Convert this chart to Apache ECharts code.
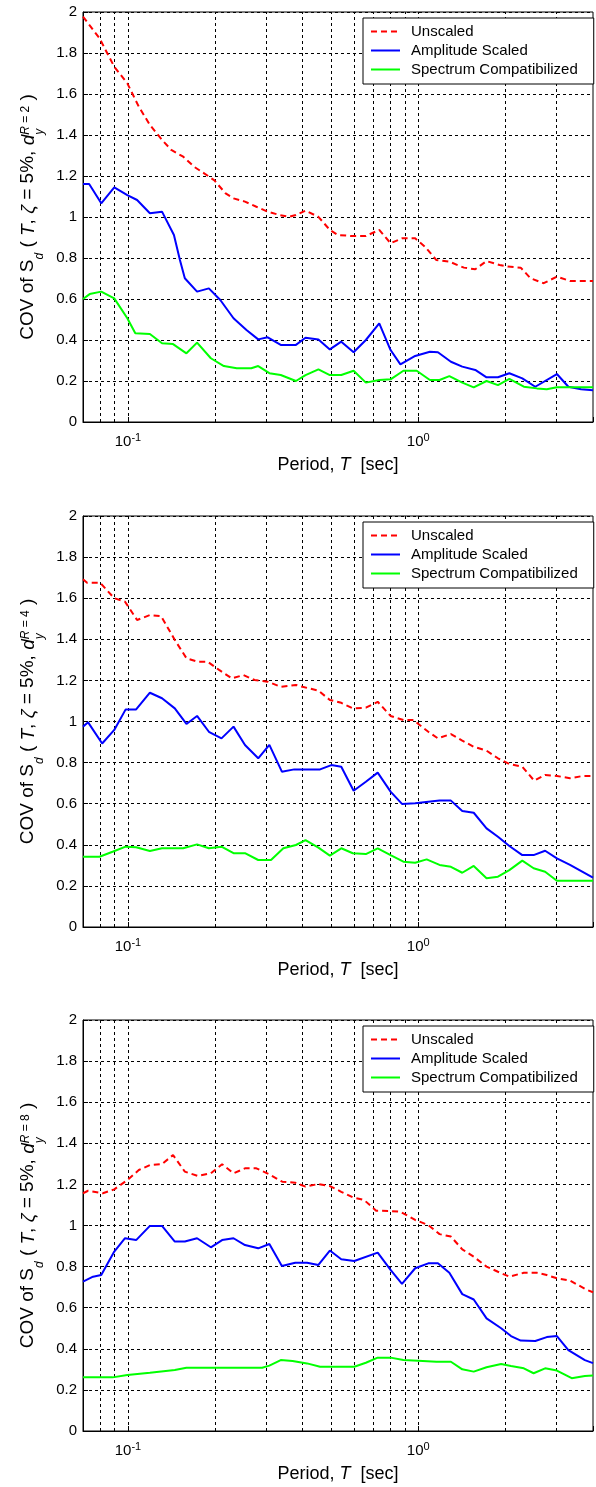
<!DOCTYPE html>
<html>
<head>
<meta charset="utf-8">
<script src="https://cdn.jsdelivr.net/npm/echarts@6/dist/echarts.min.js"></script>
<style>
  html, body { margin: 0; padding: 0; background: #fff; }
  #cov { width: 596px; height: 1487px; }
</style>
</head>
<body>
<div id="cov"></div>
<script>
  // COV of Sd vs period, one panel for each ductility level d_y^R
  const ratios = [2, 4, 8];
  const legendNames = ['Unscaled', 'Amplitude Scaled', 'Spectrum Compatibilized'];
  const gridPeriods = [0.08, 0.09, 0.1, 0.2, 0.3, 0.4, 0.5, 0.6, 0.7, 0.8, 0.9, 1, 2, 3];
  const periodMin = 0.07;
  const periodMax = 4;

  // R = 2
  const periodUnscaledR2 = [0.07, 0.0798, 0.0897, 0.0995, 0.109, 0.119, 0.131, 0.141, 0.155, 0.169, 0.183, 0.198, 0.217, 0.231, 0.253, 0.277, 0.303, 0.332, 0.359, 0.379, 0.409, 0.453, 0.496, 0.529, 0.595, 0.66, 0.734, 0.803, 0.879, 0.976, 1.055, 1.155, 1.28, 1.437, 1.572, 1.719, 1.906, 2.035, 2.254, 2.438, 2.705, 3.004, 3.333, 4.0];
  const covUnscaledR2 = [1.977, 1.872, 1.733, 1.652, 1.538, 1.449, 1.376, 1.327, 1.294, 1.245, 1.213, 1.18, 1.115, 1.091, 1.075, 1.05, 1.026, 1.01, 1.001, 1.01, 1.031, 1.001, 0.937, 0.912, 0.907, 0.907, 0.937, 0.872, 0.896, 0.896, 0.855, 0.79, 0.782, 0.753, 0.745, 0.785, 0.766, 0.758, 0.753, 0.701, 0.677, 0.709, 0.688, 0.688];
  const periodAmplitudeR2 = [0.07, 0.0735, 0.0809, 0.0897, 0.0995, 0.1075, 0.119, 0.131, 0.144, 0.151, 0.157, 0.173, 0.19, 0.208, 0.231, 0.256, 0.281, 0.303, 0.336, 0.379, 0.409, 0.453, 0.496, 0.543, 0.599, 0.66, 0.734, 0.803, 0.868, 0.976, 1.097, 1.169, 1.296, 1.418, 1.572, 1.719, 1.882, 2.06, 2.283, 2.53, 3.004, 3.29, 3.64, 4.0];
  const covAmplitudeR2 = [1.161, 1.161, 1.067, 1.145, 1.107, 1.083, 1.018, 1.026, 0.912, 0.79, 0.701, 0.636, 0.652, 0.595, 0.506, 0.449, 0.403, 0.413, 0.376, 0.376, 0.411, 0.403, 0.354, 0.392, 0.34, 0.4, 0.481, 0.351, 0.281, 0.322, 0.343, 0.34, 0.294, 0.27, 0.254, 0.218, 0.218, 0.238, 0.213, 0.172, 0.234, 0.172, 0.16, 0.155];
  const periodSpectrumR2 = [0.07, 0.0738, 0.0809, 0.0897, 0.0995, 0.106, 0.119, 0.131, 0.143, 0.159, 0.173, 0.193, 0.214, 0.237, 0.266, 0.281, 0.307, 0.336, 0.379, 0.409, 0.453, 0.496, 0.543, 0.599, 0.66, 0.734, 0.803, 0.889, 0.988, 1.097, 1.184, 1.28, 1.418, 1.553, 1.719, 1.882, 2.06, 2.311, 2.563, 2.772, 3.004, 3.416, 4.0];
  const covSpectrumR2 = [0.6, 0.624, 0.636, 0.603, 0.506, 0.433, 0.429, 0.384, 0.38, 0.335, 0.387, 0.311, 0.273, 0.262, 0.262, 0.273, 0.238, 0.229, 0.2, 0.229, 0.257, 0.229, 0.229, 0.25, 0.192, 0.205, 0.208, 0.25, 0.25, 0.205, 0.205, 0.224, 0.192, 0.169, 0.2, 0.18, 0.21, 0.172, 0.164, 0.16, 0.169, 0.169, 0.169];

  // R = 4
  const periodUnscaledR4 = [0.07, 0.0723, 0.0802, 0.0897, 0.0977, 0.1075, 0.119, 0.13, 0.145, 0.159, 0.174, 0.188, 0.206, 0.228, 0.25, 0.273, 0.303, 0.336, 0.379, 0.399, 0.453, 0.496, 0.543, 0.595, 0.66, 0.725, 0.803, 0.889, 0.963, 1.083, 1.169, 1.296, 1.418, 1.553, 1.719, 1.882, 2.06, 2.283, 2.509, 2.736, 3.004, 3.333, 3.69, 4.0];
  const covUnscaledR4 = [1.692, 1.675, 1.675, 1.6, 1.583, 1.494, 1.518, 1.513, 1.397, 1.308, 1.291, 1.291, 1.251, 1.21, 1.226, 1.202, 1.194, 1.169, 1.178, 1.169, 1.15, 1.105, 1.091, 1.064, 1.067, 1.096, 1.027, 1.007, 1.007, 0.95, 0.918, 0.939, 0.907, 0.877, 0.858, 0.821, 0.793, 0.78, 0.712, 0.74, 0.735, 0.724, 0.735, 0.735];
  const periodAmplitudeR4 = [0.07, 0.0729, 0.0815, 0.0897, 0.0982, 0.1067, 0.119, 0.131, 0.145, 0.159, 0.173, 0.19, 0.21, 0.231, 0.253, 0.281, 0.307, 0.339, 0.374, 0.414, 0.459, 0.502, 0.543, 0.599, 0.66, 0.725, 0.803, 0.879, 0.976, 1.083, 1.184, 1.296, 1.418, 1.553, 1.719, 1.882, 2.06, 2.283, 2.497, 2.736, 3.004, 3.333, 4.0];
  const covAmplitudeR4 = [0.975, 0.996, 0.893, 0.959, 1.059, 1.059, 1.14, 1.113, 1.064, 0.988, 1.027, 0.95, 0.918, 0.975, 0.886, 0.821, 0.886, 0.756, 0.767, 0.767, 0.767, 0.788, 0.78, 0.663, 0.707, 0.751, 0.659, 0.599, 0.602, 0.61, 0.615, 0.615, 0.564, 0.556, 0.48, 0.439, 0.394, 0.35, 0.35, 0.371, 0.334, 0.302, 0.24];
  const periodSpectrumR4 = [0.07, 0.0798, 0.0885, 0.0982, 0.1067, 0.119, 0.131, 0.155, 0.173, 0.19, 0.21, 0.231, 0.253, 0.281, 0.311, 0.343, 0.379, 0.409, 0.453, 0.496, 0.543, 0.595, 0.66, 0.725, 0.803, 0.889, 0.976, 1.069, 1.184, 1.296, 1.418, 1.553, 1.719, 1.882, 2.06, 2.283, 2.497, 2.736, 3.004, 3.333, 4.0];
  const covSpectrumR4 = [0.342, 0.342, 0.366, 0.391, 0.388, 0.37, 0.383, 0.383, 0.402, 0.383, 0.391, 0.359, 0.359, 0.326, 0.326, 0.383, 0.399, 0.423, 0.386, 0.347, 0.383, 0.359, 0.355, 0.383, 0.35, 0.318, 0.313, 0.329, 0.302, 0.293, 0.264, 0.297, 0.237, 0.245, 0.277, 0.323, 0.286, 0.269, 0.225, 0.225, 0.225];

  // R = 8
  const periodUnscaledR8 = [0.07, 0.0729, 0.0819, 0.0897, 0.0995, 0.109, 0.119, 0.131, 0.143, 0.157, 0.174, 0.193, 0.211, 0.231, 0.253, 0.277, 0.307, 0.34, 0.377, 0.409, 0.453, 0.496, 0.543, 0.595, 0.651, 0.716, 0.793, 0.868, 0.976, 1.083, 1.184, 1.296, 1.418, 1.553, 1.719, 1.882, 2.06, 2.311, 2.563, 2.772, 3.004, 3.333, 3.77, 4.0];
  const covUnscaledR8 = [1.157, 1.169, 1.157, 1.176, 1.221, 1.27, 1.294, 1.299, 1.343, 1.262, 1.241, 1.254, 1.298, 1.254, 1.278, 1.278, 1.249, 1.213, 1.208, 1.189, 1.202, 1.192, 1.164, 1.137, 1.124, 1.072, 1.071, 1.067, 1.027, 1.002, 0.958, 0.946, 0.884, 0.848, 0.8, 0.775, 0.751, 0.77, 0.77, 0.759, 0.743, 0.732, 0.69, 0.675];
  const periodAmplitudeR8 = [0.07, 0.0758, 0.0809, 0.0897, 0.0977, 0.1067, 0.119, 0.131, 0.145, 0.157, 0.173, 0.193, 0.211, 0.231, 0.253, 0.281, 0.307, 0.339, 0.377, 0.414, 0.453, 0.496, 0.543, 0.602, 0.725, 0.803, 0.879, 0.976, 1.083, 1.169, 1.28, 1.418, 1.553, 1.719, 1.93, 2.087, 2.254, 2.53, 2.772, 3.004, 3.29, 3.75, 4.0];
  const covAmplitudeR8 = [0.727, 0.751, 0.759, 0.873, 0.938, 0.929, 0.998, 0.998, 0.922, 0.922, 0.938, 0.894, 0.929, 0.938, 0.905, 0.889, 0.91, 0.803, 0.819, 0.819, 0.808, 0.878, 0.836, 0.827, 0.868, 0.784, 0.716, 0.792, 0.816, 0.816, 0.77, 0.666, 0.64, 0.548, 0.5, 0.462, 0.44, 0.438, 0.457, 0.462, 0.394, 0.345, 0.33];
  const periodSpectrumR8 = [0.07, 0.0885, 0.0995, 0.119, 0.145, 0.159, 0.29, 0.307, 0.336, 0.369, 0.414, 0.459, 0.602, 0.66, 0.725, 0.803, 0.889, 1.0, 1.155, 1.296, 1.418, 1.553, 1.719, 1.93, 2.087, 2.311, 2.497, 2.736, 3.004, 3.378, 3.75, 4.0];
  const covSpectrumR8 = [0.261, 0.261, 0.273, 0.284, 0.297, 0.308, 0.308, 0.318, 0.345, 0.341, 0.329, 0.313, 0.313, 0.332, 0.357, 0.357, 0.345, 0.342, 0.337, 0.337, 0.3, 0.289, 0.31, 0.326, 0.316, 0.305, 0.281, 0.305, 0.294, 0.257, 0.268, 0.27];

  const panels = [
    [[periodUnscaledR2, covUnscaledR2], [periodAmplitudeR2, covAmplitudeR2], [periodSpectrumR2, covSpectrumR2]],
    [[periodUnscaledR4, covUnscaledR4], [periodAmplitudeR4, covAmplitudeR4], [periodSpectrumR4, covSpectrumR4]],
    [[periodUnscaledR8, covUnscaledR8], [periodAmplitudeR8, covAmplitudeR8], [periodSpectrumR8, covSpectrumR8]]
  ];

  const FONT = 'Liberation Sans';
  const panelTops = [12, 516, 1020];
  const lineStyles = [
    { color: '#ff0000', type: [6, 4] },
    { color: '#0000ff', type: 'solid' },
    { color: '#00ff00', type: 'solid' }
  ];

  function txt(extra) {
    return Object.assign({ fontFamily: FONT, color: '#000' }, extra);
  }

  const yNameRich = {
    n: txt({ fontSize: 19, lineHeight: 34 }),
    i: txt({ fontSize: 19, lineHeight: 34, fontStyle: 'italic' }),
    sub: txt({ fontSize: 12, fontStyle: 'italic', verticalAlign: 'bottom' }),
    supi: txt({ fontSize: 12, fontStyle: 'italic', verticalAlign: 'top', padding: [8, 0, 0, -6] }),
    sup: txt({ fontSize: 12, verticalAlign: 'top', padding: [8, 0, 0, 0] })
  };

  function tenPower(v) {
    const e = Math.log10(v);
    if (Math.abs(e - Math.round(e)) > 1e-6) return '';
    return '{b|10}{s|' + Math.round(e) + '}';
  }

  const chart = echarts.init(document.getElementById('cov'));

  const grids = [], xAxes = [], yAxes = [], legends = [], series = [];

  panelTops.forEach(function (top, p) {
    grids.push({
      left: 83, right: -7, top: top, height: p === 0 ? 410 : 411,
      show: true, borderColor: '#000', borderWidth: 1
    });

    xAxes.push({
      type: 'log', logBase: 10, gridIndex: p,
      min: periodMin, max: periodMax,
      name: '{n|Period, }{i|T}{n|  [sec]}',
      nameLocation: 'middle', nameGap: 33,
      nameTextStyle: { rich: {
        n: txt({ fontSize: 18, lineHeight: 20 }),
        i: txt({ fontSize: 18, lineHeight: 20, fontStyle: 'italic' })
      } },
      axisLine: { show: true, lineStyle: { color: '#000', width: 1 } },
      axisTick: { show: true, inside: true, length: 5, lineStyle: { color: '#000' } },
      splitLine: { show: false },
      axisLabel: {
        margin: 10, formatter: tenPower,
        rich: {
          b: txt({ fontSize: 15, lineHeight: 20 }),
          s: txt({ fontSize: 11, verticalAlign: 'top' })
        }
      }
    });

    yAxes.push({
      type: 'value', gridIndex: p, min: 0, max: 2, interval: 0.2,
      name: '{n|COV of S}{sub|d}{n| ( }{i|T}{n|, }{i|ζ}{n| = 5%, }{i|d}{sub|y}{supi|R}{sup| = ' + ratios[p] + '}{n| )}',
      nameLocation: 'middle', nameGap: 36,
      nameTextStyle: { rich: yNameRich },
      axisLine: { show: true, lineStyle: { color: '#000', width: 1 } },
      axisTick: { show: true, inside: true, length: 5, lineStyle: { color: '#000' } },
      splitLine: { show: true, lineStyle: { color: '#000', type: [3, 3], width: 1 } },
      axisLabel: { margin: 6, fontFamily: FONT, fontSize: 15, color: '#000' }
    });

    legends.push({
      data: legendNames, orient: 'vertical',
      left: 363, top: top + 6,
      itemWidth: 29, itemHeight: 14, itemGap: 4,
      padding: [6, 16, 7, 7],
      borderColor: '#000', borderWidth: 1, borderRadius: 0,
      backgroundColor: '#fff', selectedMode: false,
      // only the line sample, no marker dot
      itemStyle: { opacity: 0 },
      lineStyle: { width: 2 },
      textStyle: { fontFamily: FONT, fontSize: 15, color: '#000', padding: [0, 0, 0, 6] }
    });

    panels[p].forEach(function (pair, k) {
      const s = {
        name: legendNames[k], type: 'line',
        xAxisIndex: p, yAxisIndex: p,
        symbol: 'none', showSymbol: false, z: 3,
        lineStyle: { width: 2, color: lineStyles[k].color, type: lineStyles[k].type },
        itemStyle: { color: lineStyles[k].color },
        data: pair[0].map(function (t, i) { return [t, pair[1][i]]; })
      };
      if (k === 0) {
        // vertical log grid lines (minor decades included)
        s.markLine = {
          silent: true, symbol: ['none', 'none'], z: 1,
          label: { show: false },
          lineStyle: { color: '#000', type: [3, 3], width: 1 },
          emphasis: { disabled: true },
          data: gridPeriods.map(function (t) { return { xAxis: t }; })
        };
      }
      series.push(s);
    });
  });

  chart.setOption({
    animation: false,
    backgroundColor: '#fff',
    textStyle: { fontFamily: FONT },
    grid: grids,
    xAxis: xAxes,
    yAxis: yAxes,
    legend: legends,
    series: series
  });
</script>
</body>
</html>
